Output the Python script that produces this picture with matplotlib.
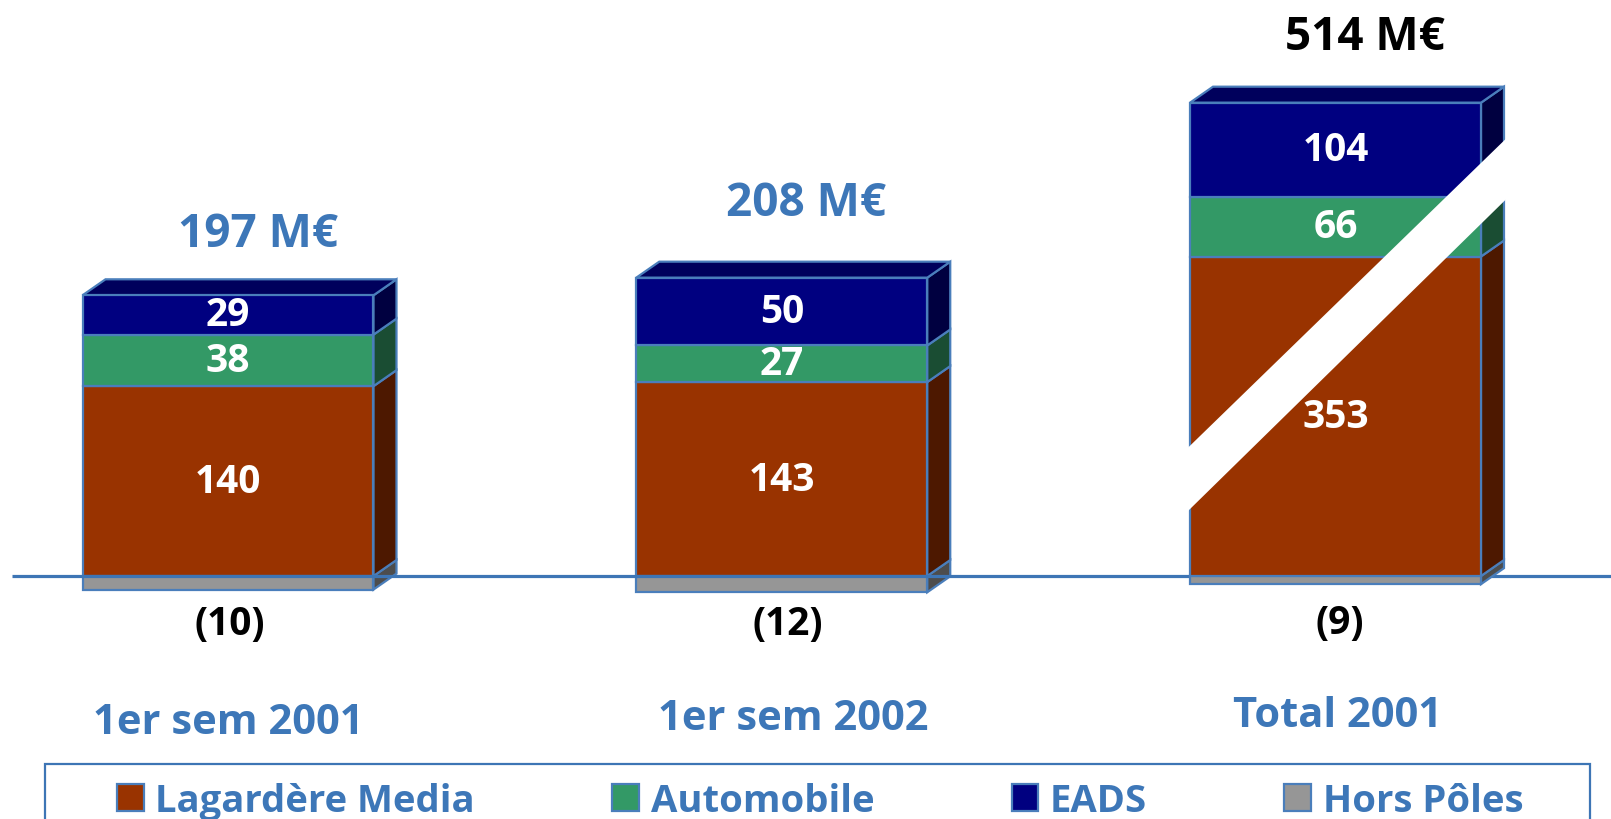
import matplotlib
matplotlib.use("Agg")
import matplotlib.pyplot as plt
from matplotlib.patches import Polygon, Patch, Rectangle

# ---------------- data ----------------
categories = ["1er sem 2001", "1er sem 2002", "Total 2001"]
series_names = ["Lagardère Media", "Automobile", "EADS", "Hors Pôles"]
lagardere = [140, 143, 353]
automobile = [38, 27, 66]
eads = [29, 50, 104]
hors_poles = [-10, -12, -9]

# ---------------- styles ----------------
front_colors = ["#993300", "#339966", "#000080", "#969696"]
side_colors = ["#4d1800", "#1a4d33", "#000040", "#4d4d4d"]
top_color = "#00005c"
edge_color = "#4a7ebb"
blue_text = "#3d77b8"
FONT = "Open Sans"
plt.rcParams["font.family"] = [FONT, "DejaVu Sans"]

W, H = 1611, 820
base_px = 577          # baseline position from top (px)
x0_px = 228            # centre of first bar (px)
ppu_x = 553.75         # px per category unit
scale_main = 1.356     # px per M€ for the two half-year bars
scale_total = 0.905    # px per M€ for the (broken) full-year bar
bar_w = 0.5255
depth_px = (23, 16)

fig = plt.figure(figsize=(W / 100, H / 100), dpi=100)
ax1 = fig.add_axes([0, 0, 1, 1])
ax2 = fig.add_axes([0, 0, 1, 1])
ax2.patch.set_visible(False)


def setup(ax, s):
    ax.set_xlim(-x0_px / ppu_x, (W - x0_px) / ppu_x)
    ax.set_ylim(-(H - base_px) / s, base_px / s)
    ax.axis("off")


setup(ax1, scale_main)
setup(ax2, scale_total)

label_offsets = [(30, 62), (24, 75), (29, 66)]      # px, total labels
neg_offsets = [2, 6, 4]                              # px, hors pôles labels
cat_offsets = [(0, -147), (12, -143), (2, -140)]     # px, category labels


def draw_bar(ax, i, s):
    dx = depth_px[0] / ppu_x
    dy = depth_px[1] / s
    vals = [lagardere[i], automobile[i], eads[i]]
    xl, xr = i - bar_w / 2, i + bar_w / 2
    # negative (Hors Pôles) below the baseline
    hp = hors_poles[i]
    ax.bar(i, hp, bottom=0, width=bar_w, color=front_colors[3],
           edgecolor=edge_color, linewidth=1.6, zorder=2)
    ax.add_patch(Polygon([(xr, hp), (xr + dx, hp + dy), (xr + dx, dy), (xr, 0)],
                         closed=True, facecolor=side_colors[3],
                         edgecolor=edge_color, linewidth=1.6, zorder=1.5))
    bottom = 0
    for k, v in enumerate(vals):
        ax.bar(i, v, bottom=bottom, width=bar_w, color=front_colors[k],
               edgecolor=edge_color, linewidth=1.6, zorder=2)
        top = bottom + v
        ax.add_patch(Polygon([(xr, bottom), (xr + dx, bottom + dy),
                              (xr + dx, top + dy), (xr, top)], closed=True,
                             facecolor=side_colors[k], edgecolor=edge_color,
                             linewidth=1.6, zorder=1.8))
        ax.text(i, bottom + v / 2, f"{v}", ha="center", va="center",
                color="white", fontsize=28, fontweight="bold", zorder=6)
        bottom = top
    # top face
    ax.add_patch(Polygon([(xl, bottom), (xl + dx, bottom + dy),
                          (xr + dx, bottom + dy), (xr, bottom)], closed=True,
                         facecolor=top_color, edgecolor=edge_color,
                         linewidth=1.6, zorder=1.8))
    total = sum(vals) + hp
    ox, oy = label_offsets[i]
    ax.annotate(f"{total} M€", (i, bottom), xytext=(ox * 0.72, oy * 0.72),
                textcoords="offset points", ha="center", va="center",
                fontsize=33, fontweight="bold",
                color=("black" if i == 2 else blue_text), zorder=6)
    ax.annotate(f"({abs(hp)})", (i, 0), xytext=(neg_offsets[i] * 0.72, -47 * 0.72),
                textcoords="offset points", ha="center", va="center",
                fontsize=28, fontweight="bold", color="black", zorder=6)
    cx, cy = cat_offsets[i]
    ax.annotate(categories[i], (i, 0), xytext=(cx * 0.72, cy * 0.72),
                textcoords="offset points", ha="center", va="center",
                fontsize=30, fontweight="bold", color=blue_text, zorder=6)
    return dx, dy


draw_bar(ax1, 0, scale_main)
draw_bar(ax1, 1, scale_main)
dx3, dy3 = draw_bar(ax2, 2, scale_total)

# break mark (white diagonal band) across the full-year bar
xl3 = 2 - bar_w / 2 - 0.01
xr3 = 2 + bar_w / 2 + dx3 + 0.01
y_low = (68, 420)
y_up = (138, 487)
ax2.add_patch(Polygon([(xl3, y_low[0]), (xr3, y_low[1]), (xr3, y_up[1]), (xl3, y_up[0])],
                      closed=True, facecolor="white", edgecolor="none", zorder=4))

# baseline
xlim = ax1.get_xlim()
ax1.plot([(12 - x0_px) / ppu_x, xlim[1]], [0, 0], color="#3d75b5",
         linewidth=2.3, zorder=3, solid_capstyle="butt")

# legend frame and legend
fig.patches.append(Rectangle((45 / W, -0.1), (1590 - 45) / W, 0.1 + (1 - 765 / H),
                             transform=fig.transFigure, fill=False,
                             edgecolor="#3d75b5", linewidth=1.6))
handles = [Patch(facecolor=c, edgecolor=edge_color, linewidth=1.6) for c in front_colors]
leg = fig.legend(handles, series_names, loc="center left",
                 bbox_to_anchor=(117 / W, 1 - 802 / H), ncol=4, frameon=False,
                 borderpad=0, borderaxespad=0, handlelength=0.7, handleheight=0.7,
                 handletextpad=0.3, columnspacing=3.6,
                 prop={"family": FONT, "weight": "bold", "size": 27.5})
for t in leg.get_texts():
    t.set_color(blue_text)

fig.savefig("out.png", dpi=100)
